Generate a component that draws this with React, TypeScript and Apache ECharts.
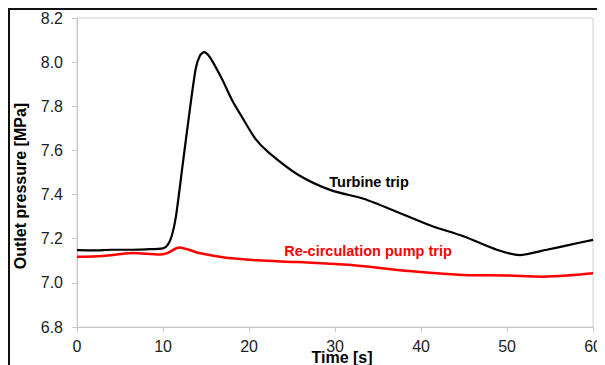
import React, { useEffect, useRef } from "react";
import * as echarts from "echarts";

const turbineTime = [0, 2, 4, 6, 8, 10, 10.5, 11, 11.5, 12.3, 13, 13.8, 14.3, 14.8, 15.3, 15.8, 16.9, 18, 19.2, 20.7, 22.3, 25.7, 29.5, 33.4, 37.3, 41.1, 45, 48.8, 51.5, 54.6, 57, 60];
const turbineValue = [7.148, 7.147, 7.15, 7.15, 7.152, 7.156, 7.17, 7.21, 7.3, 7.54, 7.75, 7.97, 8.03, 8.045, 8.03, 8.0, 7.92, 7.83, 7.75, 7.655, 7.59, 7.49, 7.42, 7.38, 7.32, 7.26, 7.21, 7.15, 7.126, 7.15, 7.17, 7.195];

const pumpTime = [0, 3, 6.5, 9.6, 10.5, 11.9, 13, 14.2, 16, 18, 21, 25.7, 30, 33.4, 37.3, 41, 45, 50, 54.2, 57, 60];
const pumpValue = [7.118, 7.122, 7.135, 7.128, 7.135, 7.16, 7.15, 7.135, 7.122, 7.111, 7.102, 7.094, 7.085, 7.075, 7.058, 7.046, 7.036, 7.033, 7.028, 7.033, 7.043];

const xTicks = [0, 10, 20, 30, 40, 50, 60];
const yTicks = [6.8, 7.0, 7.2, 7.4, 7.6, 7.8, 8.0, 8.2];

const xTitle = "Time [s]";
const yTitle = "Outlet pressure [MPa]";
const turbineLabel = "Turbine trip";
const pumpLabel = "Re-circulation pump trip";

const FONT = "'Liberation Sans', Arial, sans-serif";

export default function App() {
  const ref = useRef<HTMLDivElement>(null);
  useEffect(() => {
    const chart = echarts.init(ref.current!, null, { renderer: "svg" });
    chart.setOption({
      animation: false,
      backgroundColor: "#fff",
      grid: { left: 69, top: 10, right: 8, bottom: 38, show: true, borderColor: "#d0d0d0", borderWidth: 1 },
      xAxis: {
        type: "value",
        min: xTicks[0],
        max: xTicks[xTicks.length - 1],
        interval: 10,
        axisLine: { show: true, onZero: false, lineStyle: { color: "#c8c8c8" } },
        axisTick: { show: true, length: 5, lineStyle: { color: "#c8c8c8" } },
        splitLine: { show: false },
        axisLabel: { color: "#222", fontSize: 16, fontFamily: FONT, margin: 11 },
      },
      yAxis: {
        type: "value",
        min: yTicks[0],
        max: yTicks[yTicks.length - 1],
        interval: 0.2,
        axisLine: { show: true, lineStyle: { color: "#c8c8c8" } },
        axisTick: { show: true, length: 5, lineStyle: { color: "#c8c8c8" } },
        splitLine: { show: false },
        axisLabel: { color: "#222", fontSize: 16, fontFamily: FONT, margin: 14, formatter: (v: number) => v.toFixed(1) },
      },
      graphic: [
        { type: "line", shape: { x1: 0, y1: 1, x2: 597, y2: 1 }, style: { stroke: "#111", lineWidth: 2 } },
        { type: "line", shape: { x1: 1, y1: 0, x2: 1, y2: 357 }, style: { stroke: "#111", lineWidth: 2 } },
        {
          type: "text", x: 334, y: 349,
          style: { text: xTitle, fill: "#000", font: `bold 16px ${FONT}`, align: "center", verticalAlign: "middle" },
        },
        {
          type: "text", x: 12, y: 178, rotation: Math.PI / 2,
          style: { text: yTitle, fill: "#000", font: `bold 16px ${FONT}`, align: "center", verticalAlign: "middle" },
        },
        {
          type: "text", x: 361, y: 174,
          style: { text: turbineLabel, fill: "#000", font: `bold 14.5px ${FONT}`, align: "center", verticalAlign: "middle" },
        },
        {
          type: "text", x: 360, y: 243,
          style: { text: pumpLabel, fill: "#ff0000", font: `bold 14.5px ${FONT}`, align: "center", verticalAlign: "middle" },
        },
      ],
      series: [
        {
          type: "line",
          data: turbineTime.map((t, i) => [t, turbineValue[i]]),
          showSymbol: false,
          smooth: 0.25,
          lineStyle: { color: "#000", width: 2.2 },
        },
        {
          type: "line",
          data: pumpTime.map((t, i) => [t, pumpValue[i]]),
          showSymbol: false,
          smooth: 0.3,
          lineStyle: { color: "#ff0000", width: 2.5 },
        },
      ],
    });
    return () => chart.dispose();
  }, []);
  return <div ref={ref} style={{ width: 597, height: 357 }} />;
}
